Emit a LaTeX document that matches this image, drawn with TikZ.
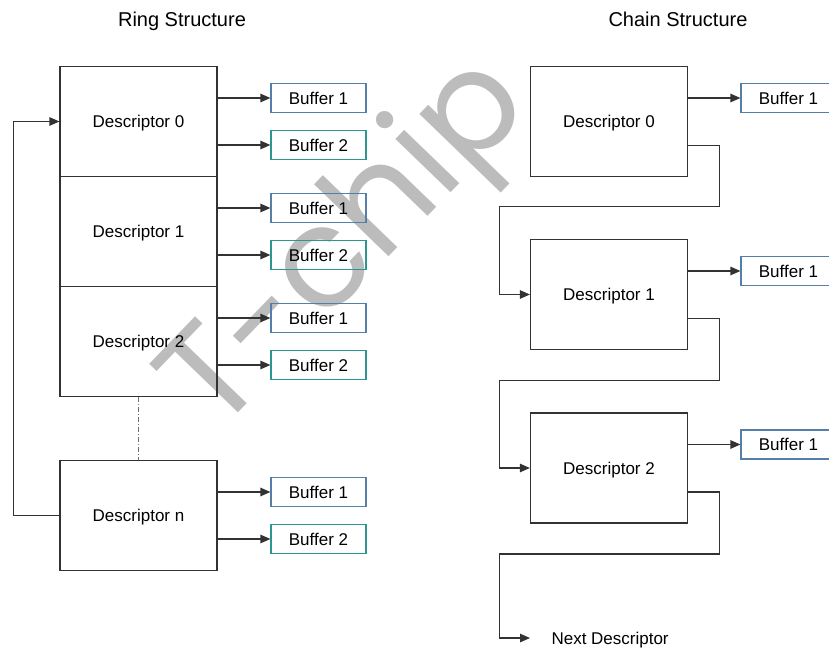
\documentclass[tikz,border=0pt]{standalone}
\usepackage{fontspec}
\setmainfont{Liberation Sans}
\newfontfamily\markfont{Poppins}
\usetikzlibrary{arrows.meta}
\definecolor{bufblue}{RGB}{84,128,168}
\definecolor{bufteal}{RGB}{46,150,146}
\definecolor{lineclr}{RGB}{50,50,50}
\definecolor{markgray}{RGB}{188,188,188}
\begin{document}
\begin{tikzpicture}[x=1pt,y=-1pt,every node/.style={font=\fontsize{17}{19}\selectfont},
  desc/.style={draw=lineclr,line width=1.2pt,minimum width=157pt,minimum height=110pt,inner sep=0pt,text height=12pt,text depth=0pt},
  buf/.style={draw=#1,line width=1.2pt,minimum width=95pt,minimum height=29pt,inner sep=0pt,text height=12pt,text depth=0pt},
  arr/.style={-{Triangle[length=10pt,width=8.5pt]},draw=lineclr,line width=1.2pt},
  title/.style={font=\fontsize{20}{22}\selectfont}]
  \useasboundingbox (0,0) rectangle (829,648);
  \clip (0,0) rectangle (829,648);
  \node[text=markgray,font=\markfont\fontsize{140}{140}\selectfont,rotate=46,anchor=base west,inner sep=0pt] (mark) at (216,436) {T-chip};
  \node[title,anchor=base] (ringtitle) at (182,26) {Ring Structure};
  \node[title,anchor=base] (chaintitle) at (678,26) {Chain Structure};
  \node[desc] (r0) at (138.5,121.5) {Descriptor 0};
  \node[desc] (r1) at (138.5,231.5) {Descriptor 1};
  \node[desc] (r2) at (138.5,341.5) {Descriptor 2};
  \node[desc] (rn) at (138.5,515.5) {Descriptor n};
  \foreach \d/\y in {r0/121.5,r1/231.5,r2/341.5,rn/515.5}{
    \node[buf=bufblue] (\d-b1) at (318.5,\y-23.5) {Buffer 1};
    \node[buf=bufteal] (\d-b2) at (318.5,\y+23.5) {Buffer 2};
    \draw[arr] (\d.east |- \d-b1) -- (\d-b1);
    \draw[arr] (\d.east |- \d-b2) -- (\d-b2);
  }
  \draw[lineclr!70,line width=1pt,dash pattern=on 5pt off 2pt on 1pt off 2pt] (r2.south) -- (rn.north);
  \draw[arr] (rn.west) -- ++(-46,0) |- (r0);
  \node[desc] (c0) at (609,121.5) {Descriptor 0};
  \node[desc] (c1) at (609,294.5) {Descriptor 1};
  \node[desc] (c2) at (609,468) {Descriptor 2};
  \foreach \d/\y in {c0/121.5,c1/294.5,c2/468}{
    \node[buf=bufblue] (\d-b1) at (788.5,\y-23.5) {Buffer 1};
    \draw[arr] (\d.east |- \d-b1) -- (\d-b1);
  }
  \coordinate (nxt) at (530,638);
  \node[anchor=west] (nxtlbl) at (548,640) {Next Descriptor};
  \draw[arr] ([yshift=-24pt]c0.east) -- ++(31,0) -- ++(0,61) -- ++(-220,0) |- (c1);
  \draw[arr] ([yshift=-24pt]c1.east) -- ++(31,0) -- ++(0,62) -- ++(-220,0) |- (c2);
  \draw[arr] ([yshift=-24pt]c2.east) -- ++(31,0) -- ++(0,62) -- ++(-220,0) |- (nxt);
\end{tikzpicture}
\end{document}
